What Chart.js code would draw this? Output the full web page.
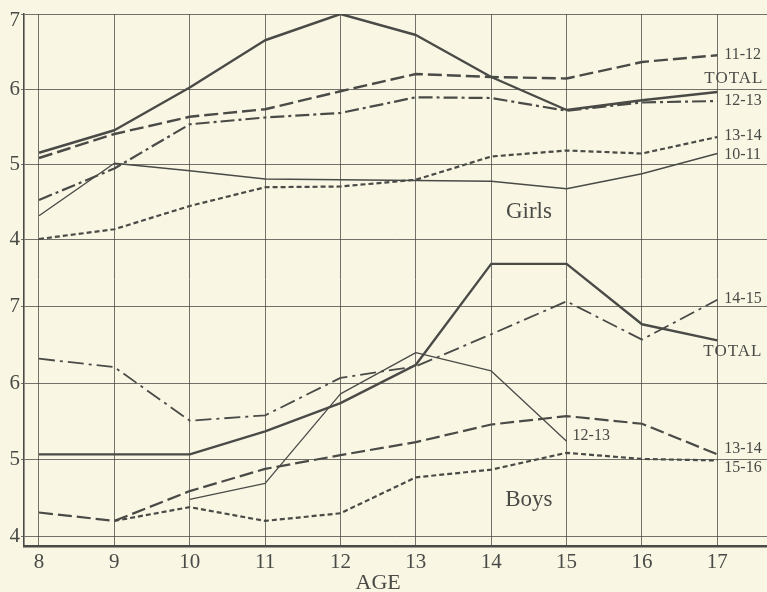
<!DOCTYPE html>
<html><head><meta charset="utf-8">
<script src="https://cdn.jsdelivr.net/npm/chart.js@4.4.1/dist/chart.umd.min.js"></script>
<style>html,body{margin:0;padding:0;background:#f9f7e4;}canvas{display:block}</style>
</head><body>
<canvas id="c" width="767" height="592"></canvas>
<script>
// ---- data ----
const ages = [8, 9, 10, 11, 12, 13, 14, 15, 16, 17];
const girlsTicks = [4, 5, 6, 7];
const boysTicks = [4, 5, 6, 7];

const girlsTotal = [5.15, 5.45, 6.02, 6.65, 7.00, 6.72, 6.16, 5.72, 5.85, 5.96];
const girls1112  = [5.08, 5.40, 5.63, 5.73, 5.97, 6.20, 6.16, 6.14, 6.36, 6.45];
const girls1213  = [4.52, 4.94, 5.53, 5.62, 5.68, 5.89, 5.88, 5.71, 5.82, 5.84];
const girls1314  = [4.00, 4.13, 4.44, 4.69, 4.70, 4.79, 5.10, 5.18, 5.14, 5.36];
const girls1011  = [4.31, 5.01, 4.91, 4.80, 4.79, 4.78, 4.77, 4.67, 4.87, 5.14];

const boysTotal = [5.07, 5.07, 5.07, 5.37, 5.74, 6.24, 7.56, 7.56, 6.77, 6.56];
const boys1415  = [6.32, 6.21, 5.51, 5.58, 6.07, 6.22, 6.64, 7.07, 6.57, 7.09];
const boys1213  = [null, null, 4.48, 4.69, 5.86, 6.40, 6.16, 5.24, null, null];
const boys1314  = [4.31, 4.20, 4.59, 4.88, 5.06, 5.23, 5.46, 5.57, 5.47, 5.07];
const boys1516  = [null, 4.20, 4.38, 4.20, 4.30, 4.77, 4.87, 5.09, 5.01, 4.99];

// ---- styling / layout ----
const INK = '#4a4a47';
const GRID = 'rgba(70,70,66,0.75)';
const SERIF = '"Liberation Serif", "DejaVu Serif", serif';
const G_MIN = -0.0933, G_MAX = 7, B_MIN = 3.872, B_MAX = 10.826;
const toB = g => B_MIN + (g - G_MIN) * (B_MAX - B_MIN) / (G_MAX - G_MIN);
const yTickList = boysTicks.map(v => ({value: v, label: String(v)}))
  .concat(girlsTicks.map(v => ({value: toB(v), label: String(v)})));
const TOP_IDX = yTickList.length - 1; // top tick label is drawn nudged down inside the frame

function pts(vals) {
  return ages.map((a, i) => vals[i] == null ? null : {x: a, y: vals[i]}).filter(p => p);
}
function ds(name, vals, axis, width, dash) {
  return {label: name, data: pts(vals), yAxisID: axis, borderColor: INK, borderWidth: width,
    borderDash: dash, pointRadius: 0, fill: false, tension: 0, borderCapStyle: 'butt',
    borderJoinStyle: 'round'};
}
const LONG = [14, 5], SHORT = [5, 3], DASHDOT = [14, 4, 3, 4];

const datasets = [
  ds('Girls TOTAL', girlsTotal, 'yG', 2.4, []),
  ds('Girls 11-12', girls1112, 'yG', 2.4, LONG),
  ds('Girls 12-13', girls1213, 'yG', 2.2, DASHDOT),
  ds('Girls 13-14', girls1314, 'yG', 2.2, SHORT),
  ds('Girls 10-11', girls1011, 'yG', 1.4, []),
  ds('Boys TOTAL', boysTotal, 'yB', 2.4, []),
  ds('Boys 14-15', boys1415, 'yB', 1.8, [16, 5, 3, 5]),
  ds('Boys 12-13', boys1213, 'yB', 1.3, []),
  ds('Boys 13-14', boys1314, 'yB', 2.2, LONG),
  ds('Boys 15-16', boys1516, 'yB', 2.2, SHORT)
];

// text annotations: series end labels (offsets are purely layout)
const endLabels = [
  {text: '11-12', ds: 1, dx: 7,   dy: 0,   size: 16},
  {text: 'TOTAL', ds: 0, dx: -13, dy: -13, size: 17, spacing: 1},
  {text: '12-13', ds: 2, dx: 7,   dy: 0,   size: 16},
  {text: '13-14', ds: 3, dx: 7,   dy: -1,  size: 16},
  {text: '10-11', ds: 4, dx: 7,   dy: 1,   size: 16},
  {text: '14-15', ds: 6, dx: 7,   dy: -1.5, size: 16},
  {text: 'TOTAL', ds: 5, dx: -14, dy: 11,  size: 17, spacing: 1},
  {text: '12-13', ds: 7, dx: 6,   dy: -6,  size: 16},
  {text: '13-14', ds: 8, dx: 7,   dy: -6,  size: 16},
  {text: '15-16', ds: 9, dx: 7,   dy: 7,   size: 16}
];
const panelLabels = [
  {text: 'Girls', x: 14.5, y: 4.36, axis: 'yG'},
  {text: 'Boys',  x: 14.5, y: 4.47, axis: 'yB'}
];

const textPlugin = {
  id: 'texts',
  afterDatasetsDraw(chart) {
    const ctx = chart.ctx, xs = chart.scales.x;
    ctx.save();
    ctx.fillStyle = INK;
    ctx.textBaseline = 'middle';
    endLabels.forEach(l => {
      const d = chart.data.datasets[l.ds];
      const last = d.data[d.data.length - 1];
      const ys = chart.scales[d.yAxisID];
      ctx.font = l.size + 'px ' + SERIF;
      ctx.letterSpacing = (l.spacing || 0) + 'px';
      ctx.textAlign = 'left';
      ctx.fillText(l.text, xs.getPixelForValue(last.x) + l.dx, ys.getPixelForValue(last.y) + l.dy);
    });
    ctx.letterSpacing = '0px';
    ctx.font = '23px ' + SERIF;
    ctx.textAlign = 'center';
    panelLabels.forEach(p => {
      ctx.fillText(p.text, xs.getPixelForValue(p.x), chart.scales[p.axis].getPixelForValue(p.y));
    });
    ctx.font = '22px ' + SERIF;
    ctx.fillText('AGE', (xs.getPixelForValue(ages[0]) + xs.getPixelForValue(ages[ages.length - 1])) / 2, 583);
    // top tick label, nudged down so it sits inside the frame like the original
    const yb = chart.scales.yB;
    ctx.font = '21px ' + SERIF;
    ctx.textAlign = 'right';
    ctx.fillText(yTickList[TOP_IDX].label, yb.right - 4, yb.getPixelForValue(yTickList[TOP_IDX].value) + 6);
    ctx.restore();
  }
};

new Chart(document.getElementById('c'), {
  type: 'line',
  data: {datasets},
  plugins: [textPlugin],
  options: {
    responsive: false,
    devicePixelRatio: 1,
    animation: false,
    layout: {padding: {top: 14, right: 0, left: 0, bottom: 0}},
    plugins: {legend: {display: false}, tooltip: {enabled: false}},
    scales: {
      x: {
        type: 'linear', min: 7.801, max: 17.659,
        afterBuildTicks: s => { s.ticks = ages.map(v => ({value: v})); },
        afterFit: s => { s.height = 46; },
        grid: {color: GRID, lineWidth: 1, drawTicks: false},
        border: {display: true, color: INK, width: 2.5},
        ticks: {font: {family: SERIF, size: 21}, color: INK, padding: 4, autoSkip: false, maxRotation: 0}
      },
      yG: {type: 'linear', min: G_MIN, max: G_MAX, display: false},
      yB: {
        type: 'linear', position: 'left', min: B_MIN, max: B_MAX,
        afterBuildTicks: s => { s.ticks = yTickList.map(t => ({value: t.value})); },
        afterFit: s => { s.width = 24; },
        grid: {color: GRID, lineWidth: 1, tickLength: 3},
        border: {display: true, color: INK, width: 1.6},
        ticks: {callback: (v, i) => (i === TOP_IDX || !yTickList[i]) ? '' : yTickList[i].label,
          font: {family: SERIF, size: 21}, color: INK, padding: 1, autoSkip: false}
      }
    }
  }
});
</script>
</body></html>
